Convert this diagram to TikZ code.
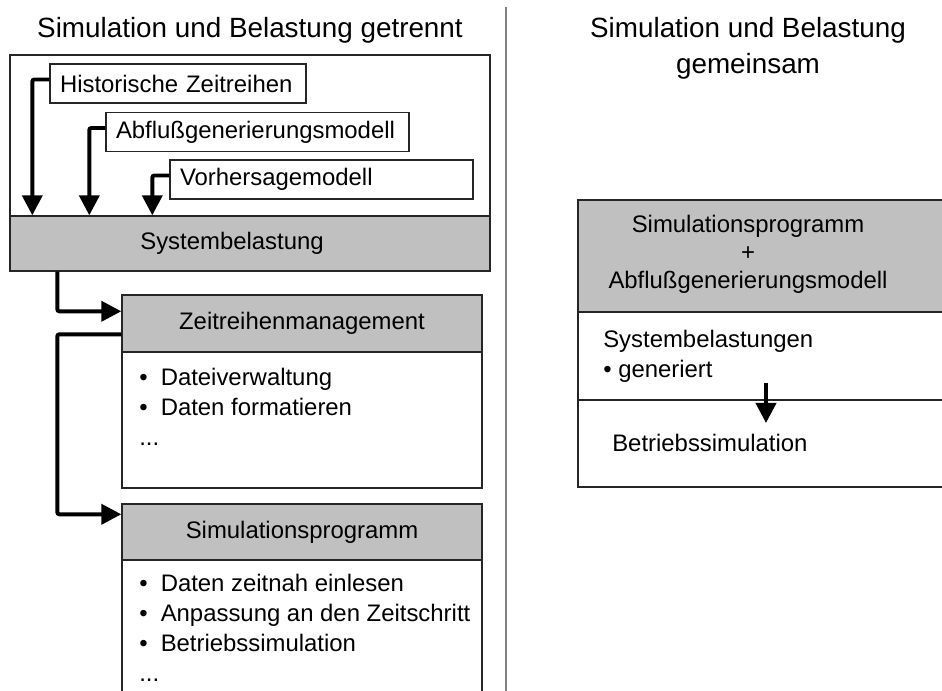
\documentclass[tikz,border=0pt]{standalone}
\usepackage{fontspec}
\setmainfont{Liberation Sans}
\usetikzlibrary{arrows.meta}
\definecolor{kopfgrau}{HTML}{C0C0C0}
\newcommand{\punkt}{\makebox[0.9em][l]{\textbullet}}

\begin{document}
\begin{tikzpicture}[every node/.style={font=\fontsize{17}{21.3}\selectfont},
  titel/.style={font=\fontsize{19.8}{25.6}\selectfont, align=center},
  kasten/.style={draw=black!85, line width=1pt, fill=white, inner sep=0pt},
  kopf/.style={kasten, fill=kopfgrau},
  eingabe/.style={kasten, minimum height=0.975cm, inner xsep=0.25cm, align=left},
  liste/.style={anchor=north west, align=left, inner sep=0pt},
  pfeil/.style={line width=2.8pt, rounded corners=1.5pt, -{Triangle[width=0.5cm,length=0.5cm]}}]
  \useasboundingbox (0,0) rectangle (23.55,-17.275);

  % Überschriften und Trennlinie
  \node[titel] (tlinks) at (6.25,-0.75) {Simulation und Belastung getrennt};
  \node[titel] (trechts) at (18.7,-1.2) {Simulation und Belastung\\gemeinsam};
  \draw[black!50, line width=1.5pt] (12.65,-0.175) -- (12.65,-17.4);

  % Linke Seite: Belastung
  \node[kasten, minimum width=12cm, minimum height=5.4cm] (rahmen) at (6.25,-4.075) {};
  \node[eingabe, text width=5.9cm] (hist) at (4.45,-2.0875) {Historische Zeitreihen};
  \node[eingabe, text width=7.075cm] (abfl) at (6.4375,-3.3) {Abflußgenerierungsmodell};
  \node[eingabe, text width=7.075cm] (vorh) at (8.0375,-4.4875) {Vorhersagemodell};
  \node[kopf, minimum width=12cm, minimum height=1.375cm] (sysb) at (6.25,-6.0875) {\hspace*{-0.9cm}Systembelastung};

  % Zeitreihenmanagement
  \node[kopf, minimum width=9cm, minimum height=1.425cm] (zeit) at (7.55,-8.0875) {Zeitreihenmanagement};
  \node[kasten, minimum width=9cm, minimum height=3.4cm] (zeitrumpf) at (7.55,-10.5) {};
  \node[liste] (zeitliste) at (3.475,-9.2) {\punkt Dateiverwaltung\\\punkt Daten formatieren\\...};

  % Simulationsprogramm
  \node[kopf, minimum width=9cm, minimum height=1.4cm] (sim) at (7.55,-13.3) {Simulationsprogramm};
  \node[kasten, minimum width=9cm, minimum height=3.5cm] (simrumpf) at (7.55,-15.75) {};
  \node[liste] (simliste) at (3.475,-14.35) {\punkt Daten zeitnah einlesen\\\punkt Anpassung an den Zeitschritt\\\punkt Betriebssimulation\\...};

  % Pfeile links
  \draw[pfeil] ([yshift=1mm]hist.west) -| ([xshift=0.575cm]sysb.north west);
  \draw[pfeil] ([yshift=1mm]abfl.west) -| ([xshift=2cm]sysb.north west);
  \draw[pfeil] ([yshift=1mm]vorh.west) -| ([xshift=3.575cm]sysb.north west);
  \draw[pfeil] ([xshift=1.2cm]sysb.south west) |- ([yshift=-0.425cm]zeit.north west);
  \draw[pfeil] ([yshift=-1cm]zeit.north west) -- ++(-1.6cm,0) |- ([yshift=-0.275cm]sim.north west);

  % Rechte Seite: gemeinsam
  \node[kopf, minimum width=9.3cm, minimum height=2.8cm] (gem) at (19.1,-6.4) {};
  \node[align=center, font=\fontsize{17}{19.9}\selectfont] (gemtext) at (18.7,-6.35) {Simulationsprogramm\\+\\Abflußgenerierungsmodell};
  \node[kasten, minimum width=9.3cm, minimum height=2.2cm] (gemlast) at (19.1,-8.9) {};
  \node[kasten, minimum width=9.3cm, minimum height=2.175cm] (gembetr) at (19.1,-11.0875) {};
  \node[liste] (lastliste) at (15.075,-8.25) {Systembelastungen\\\textbullet\ generiert};
  \node[liste, anchor=base west] (betrtext) at (15.3,-11.3) {Betriebssimulation};
  \coordinate (gemvon) at (19.15,-9.575);
  \coordinate (gemnach) at (19.15,-10.575);
  \draw[pfeil] (gemvon) -- (gemnach);
\end{tikzpicture}
\end{document}
